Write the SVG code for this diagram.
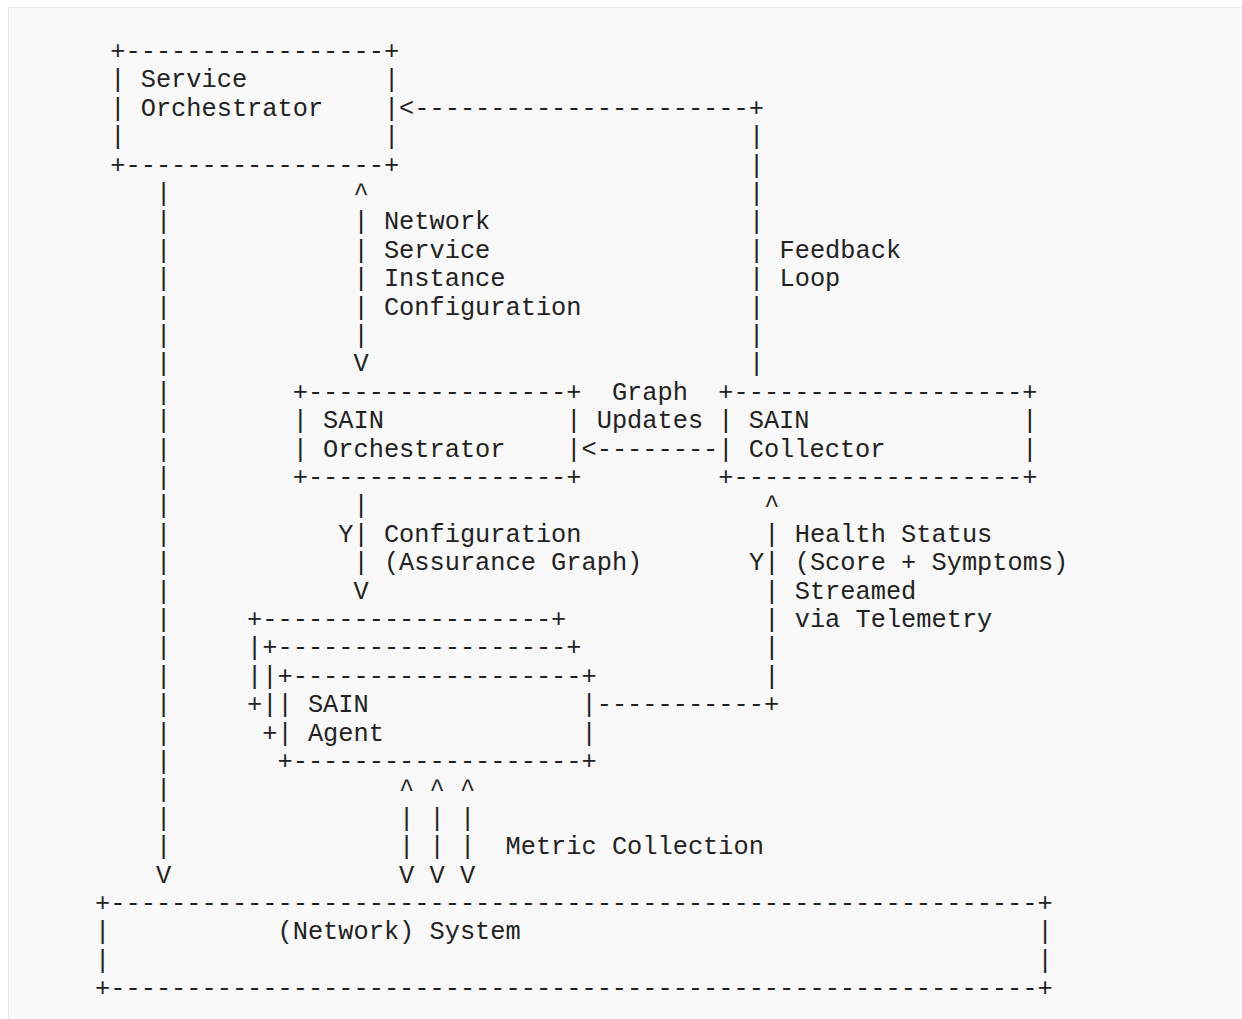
<svg xmlns="http://www.w3.org/2000/svg" width="1242" height="1019" viewBox="0 0 1242 1019">
<style>
text{font-family:"Liberation Mono","DejaVu Sans Mono",monospace;font-size:25.33px;fill:#222;white-space:pre}
</style>
<rect x="0" y="0" width="1242" height="1019" fill="#ffffff"/>
<rect x="8.5" y="7.5" width="1300" height="1100" fill="#f9f9f9" stroke="#e6e6e6" stroke-width="1"/>
<g id="service-orchestrator">
<text x="110.3" y="58.9">+-----------------+</text>
<text x="110.3" y="87.3">|</text><text x="140.7" y="87.3">Service</text><text x="383.9" y="87.3">|</text>
<text x="110.3" y="115.7">|</text><text x="140.7" y="115.7">Orchestrator</text><text x="383.9" y="115.7">|</text>
<text x="110.3" y="144.1">|</text><text x="383.9" y="144.1">|</text>
<text x="110.3" y="172.5">+-----------------+</text>
</g>
<g id="sain-orchestrator">
<text x="292.7" y="399.7">+-----------------+</text>
<text x="292.7" y="428.1">|</text><text x="323.1" y="428.1">SAIN</text><text x="566.3" y="428.1">|</text>
<text x="292.7" y="456.5">|</text><text x="323.1" y="456.5">Orchestrator</text><text x="566.3" y="456.5">|</text>
<text x="292.7" y="484.9">+-----------------+</text>
</g>
<g id="sain-collector">
<text x="718.3" y="399.7">+-------------------+</text>
<text x="718.3" y="428.1">|</text><text x="748.7" y="428.1">SAIN</text><text x="1022.3" y="428.1">|</text>
<text x="718.3" y="456.5">|</text><text x="748.7" y="456.5">Collector</text><text x="1022.3" y="456.5">|</text>
<text x="718.3" y="484.9">+-------------------+</text>
</g>
<g id="sain-agent">
<text x="247.1" y="626.9">+-------------------+</text>
<text x="247.1" y="655.3">|</text><text x="262.3" y="655.3">+-------------------+</text>
<text x="247.1" y="683.7">|</text><text x="262.3" y="683.7">|</text><text x="277.5" y="683.7">+-------------------+</text>
<text x="247.1" y="712.1">+</text><text x="262.3" y="712.1">|</text><text x="277.5" y="712.1">|</text><text x="307.9" y="712.1">SAIN</text><text x="581.5" y="712.1">|</text>
<text x="262.3" y="740.5">+</text><text x="277.5" y="740.5">|</text><text x="307.9" y="740.5">Agent</text><text x="581.5" y="740.5">|</text>
<text x="277.5" y="768.9">+-------------------+</text>
</g>
<g id="network-system">
<text x="95.1" y="910.9">+-------------------------------------------------------------+</text>
<text x="95.1" y="939.3">|</text><text x="277.5" y="939.3">(Network) System</text><text x="1037.5" y="939.3">|</text>
<text x="95.1" y="967.7">|</text><text x="1037.5" y="967.7">|</text>
<text x="95.1" y="996.1">+-------------------------------------------------------------+</text>
</g>
<g id="connectors">
<g id="feedback-loop">
<text x="399.1" y="115.7">&lt;----------------------+</text>
<text x="749.1" y="144.1">|</text>
<text x="749.1" y="172.5">|</text>
<text x="749.1" y="200.9">|</text>
<text x="749.1" y="229.3">|</text>
<text x="749.1" y="257.7">|</text><text x="779.5" y="257.7">Feedback</text>
<text x="749.1" y="286.1">|</text><text x="779.5" y="286.1">Loop</text>
<text x="749.1" y="314.5">|</text>
<text x="749.1" y="342.9">|</text>
<text x="749.1" y="371.3">|</text>
</g>
<g id="nsi-configuration">
<text x="353.5" y="200.9">^</text>
<text x="353.5" y="229.3">|</text><text x="383.9" y="229.3">Network</text>
<text x="353.5" y="257.7">|</text><text x="383.9" y="257.7">Service</text>
<text x="353.5" y="286.1">|</text><text x="383.9" y="286.1">Instance</text>
<text x="353.5" y="314.5">|</text><text x="383.9" y="314.5">Configuration</text>
<text x="353.5" y="342.9">|</text>
<text x="353.5" y="371.3">V</text>
</g>
<g id="graph-updates">
<text x="611.9" y="399.7">Graph</text>
<text x="596.7" y="428.1">Updates</text>
<text x="581.5" y="456.5">&lt;--------</text>
</g>
<g id="assurance-graph-configuration">
<text x="353.5" y="513.3">|</text>
<text x="338.3" y="541.7">Y|</text><text x="383.9" y="541.7">Configuration</text>
<text x="353.5" y="570.1">|</text><text x="383.9" y="570.1">(Assurance Graph)</text>
<text x="353.5" y="598.5">V</text>
</g>
<g id="health-status">
<text x="764.3" y="513.3">^</text>
<text x="764.3" y="541.7">|</text><text x="794.7" y="541.7">Health Status</text>
<text x="749.1" y="570.1">Y|</text><text x="794.7" y="570.1">(Score + Symptoms)</text>
<text x="764.3" y="598.5">|</text><text x="794.7" y="598.5">Streamed</text>
<text x="764.3" y="626.9">|</text><text x="794.7" y="626.9">via Telemetry</text>
<text x="764.3" y="655.3">|</text>
<text x="764.3" y="683.7">|</text>
<text x="596.7" y="712.1">-----------+</text>
</g>
<g id="orchestrator-to-system">
<text x="155.9" y="200.9">|</text>
<text x="155.9" y="229.3">|</text>
<text x="155.9" y="257.7">|</text>
<text x="155.9" y="286.1">|</text>
<text x="155.9" y="314.5">|</text>
<text x="155.9" y="342.9">|</text>
<text x="155.9" y="371.3">|</text>
<text x="155.9" y="399.7">|</text>
<text x="155.9" y="428.1">|</text>
<text x="155.9" y="456.5">|</text>
<text x="155.9" y="484.9">|</text>
<text x="155.9" y="513.3">|</text>
<text x="155.9" y="541.7">|</text>
<text x="155.9" y="570.1">|</text>
<text x="155.9" y="598.5">|</text>
<text x="155.9" y="626.9">|</text>
<text x="155.9" y="655.3">|</text>
<text x="155.9" y="683.7">|</text>
<text x="155.9" y="712.1">|</text>
<text x="155.9" y="740.5">|</text>
<text x="155.9" y="768.9">|</text>
<text x="155.9" y="797.3">|</text>
<text x="155.9" y="825.7">|</text>
<text x="155.9" y="854.1">|</text>
<text x="155.9" y="882.5">V</text>
</g>
<g id="metric-collection">
<text x="399.1" y="797.3">^ ^ ^</text>
<text x="399.1" y="825.7">| | |</text>
<text x="399.1" y="854.1">| | |</text><text x="505.5" y="854.1">Metric Collection</text>
<text x="399.1" y="882.5">V V V</text>
</g>
</g>
</svg>
